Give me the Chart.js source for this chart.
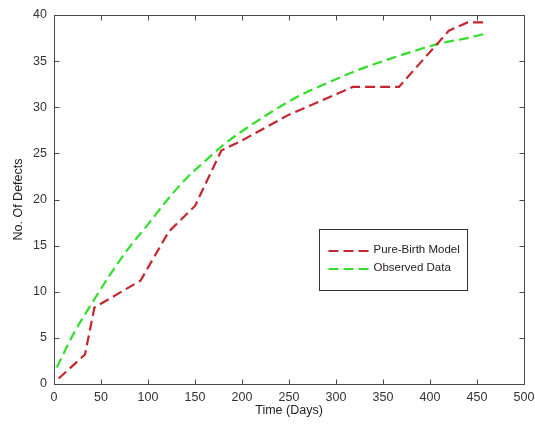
<!DOCTYPE html>
<html>
<head>
<meta charset="utf-8">
<script src="https://cdn.jsdelivr.net/npm/chart.js@4.4.1/dist/chart.umd.min.js"></script>
<style>
  body { margin: 0; background: #fff; }
</style>
</head>
<body>
<canvas id="canvas" width="535" height="424"></canvas>
<script>
// ---------- values ----------
let birthDays = [5, 33, 43, 92, 122, 150, 178, 200, 250, 300, 318, 367, 420, 440, 458]
let birthDefects = [0.6, 3.2, 8.3, 11.2, 16.5, 19.3, 25.3, 26.4, 29.2, 31.4, 32.2, 32.2, 38.3, 39.2, 39.2]

let observedDays = [3, 20, 40, 60, 80, 100, 120, 140, 160, 180, 200, 230, 260, 290, 320, 350, 380, 410, 440, 460]
let observedDefects = [1.8, 5.3, 8.7, 11.9, 14.8, 17.3, 19.9, 22.2, 24.1, 25.9, 27.4, 29.4, 31.2, 32.6, 33.9, 35.0, 36.0, 36.9, 37.5, 38.0]

let seriesNames = ['Pure-Birth Model', 'Observed Data']
let xTicks = [0, 50, 100, 150, 200, 250, 300, 350, 400, 450, 500]
let yTicks = [0, 5, 10, 15, 20, 25, 30, 35, 40]

// pair up x / y
function points(xs, ys) {
  return xs.map((x, i) => ({ x: x, y: ys[i] }))
}

const FONT = 'Liberation Sans, Arial, sans-serif'

// ---------- box round the plot, with ticks pointing inwards ----------
const frame = {
  id: 'frame',
  afterDraw(chart) {
    const ctx = chart.ctx
    const a = chart.chartArea
    const sx = chart.scales.x, sy = chart.scales.y
    const L = Math.round(a.left) + 0.5, R = Math.round(a.right) + 0.5
    const T = Math.round(a.top) + 0.5, B = Math.round(a.bottom) + 0.5
    ctx.save()
    ctx.strokeStyle = '#4a4a4a'
    ctx.lineWidth = 1
    ctx.strokeRect(L, T, R - L, B - T)
    ctx.beginPath()
    xTicks.forEach(v => {
      let px = Math.round(sx.getPixelForValue(v)) + 0.5
      ctx.moveTo(px, B); ctx.lineTo(px, B - 5)
      ctx.moveTo(px, T); ctx.lineTo(px, T + 5)
    })
    yTicks.forEach(v => {
      let py = Math.round(sy.getPixelForValue(v)) + 0.5
      ctx.moveTo(L, py); ctx.lineTo(L + 5, py)
      ctx.moveTo(R, py); ctx.lineTo(R - 5, py)
    })
    ctx.stroke()
    ctx.restore()
  }
}

// ---------- legend box inside the plot ----------
const boxLegend = {
  id: 'boxLegend',
  afterDraw(chart) {
    const ctx = chart.ctx
    const a = chart.chartArea
    const x0 = Math.round(a.left) + 265.5, y0 = Math.round(a.top) + 214.5
    const w = 148, h = 61
    ctx.save()
    ctx.fillStyle = '#fff'
    ctx.fillRect(x0, y0, w, h)
    ctx.strokeStyle = '#333'
    ctx.lineWidth = 1
    ctx.strokeRect(x0, y0, w, h)
    chart.data.datasets.forEach((ds, i) => {
      let y = y0 + 21.5 + i * 18
      ctx.beginPath()
      ctx.strokeStyle = ds.borderColor
      ctx.lineWidth = ds.borderWidth
      ctx.setLineDash(ds.borderDash)
      ctx.moveTo(x0 + 9, y)
      ctx.lineTo(x0 + 49, y)
      ctx.stroke()
      ctx.setLineDash([])
      ctx.fillStyle = '#222'
      ctx.font = '11.5px ' + FONT
      ctx.textBaseline = 'middle'
      ctx.fillText(ds.label, x0 + 54, y - 1)
    })
    ctx.restore()
  }
}

let ctx = document.getElementById('canvas').getContext('2d')
let myChart = new Chart(ctx, {
  type: 'line',
  data: {
    datasets: [{
      label: seriesNames[0],
      data: points(birthDays, birthDefects),
      borderColor: '#c42630',
      borderWidth: 2.2,
      borderDash: [10, 5],
      pointRadius: 0,
      tension: 0,
      fill: false
    }, {
      label: seriesNames[1],
      data: points(observedDays, observedDefects),
      borderColor: '#33de2c',
      borderWidth: 2.2,
      borderDash: [10, 5],
      pointRadius: 0,
      cubicInterpolationMode: 'monotone',
      fill: false
    }]
  },
  options: {
    responsive: false,
    animation: false,
    devicePixelRatio: 1,
    layout: { padding: { top: 15, right: 0, bottom: 0, left: 0 } },
    plugins: {
      legend: { display: false },
      tooltip: { enabled: false }
    },
    scales: {
      x: {
        type: 'linear',
        min: xTicks[0],
        max: xTicks[xTicks.length - 1],
        afterBuildTicks: s => { s.ticks = xTicks.map(v => ({ value: v })) },
        afterFit: s => { s.height = 40; s.paddingLeft = 0; s.paddingRight = 11 },
        grid: { display: false, drawTicks: false },
        border: { display: false },
        ticks: { color: '#333', font: { family: FONT, size: 12.5 }, padding: 6, maxRotation: 0 },
        title: { display: true, text: 'Time (Days)', color: '#222', font: { family: FONT, size: 12.5 }, padding: { bottom: 6 } }
      },
      y: {
        min: yTicks[0],
        max: yTicks[yTicks.length - 1],
        afterBuildTicks: s => { s.ticks = yTicks.map(v => ({ value: v })) },
        afterFit: s => { s.width = 54 },
        grid: { display: false, drawTicks: false },
        border: { display: false },
        ticks: { color: '#333', font: { family: FONT, size: 12.5 }, padding: 7 },
        title: { display: true, text: 'No. Of Defects', color: '#222', font: { family: FONT, size: 12.5 }, padding: { top: 11 } }
      }
    }
  },
  plugins: [frame, boxLegend]
})
</script>
</body>
</html>
